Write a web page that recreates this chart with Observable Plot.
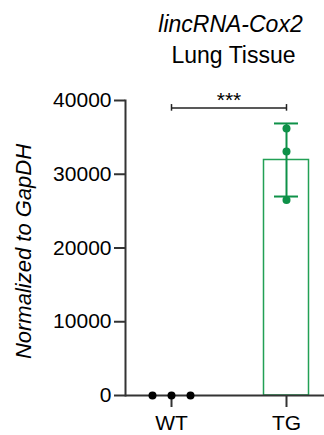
<!DOCTYPE html>
<html>
<head>
<meta charset="utf-8">
<script src="https://cdn.jsdelivr.net/npm/d3@7"></script>
<script src="https://cdn.jsdelivr.net/npm/@observablehq/plot@0.6"></script>
<style>
  html, body { margin: 0; padding: 0; background: white; }
</style>
</head>
<body>
<div id="chart"></div>
<script>
// ---- data ----
const groups = ["WT", "TG"];
const wtValues = [0, 0, 0];
const tgValues = [36200, 33100, 26500];
const yTicks = [0, 10000, 20000, 30000, 40000];
const titleLine1 = "lincRNA-Cox2";
const titleLine2 = "Lung Tissue";
const yLabel = "Normalized to GapDH";
const sigLabel = "***";
const sigY = 39000;

// ---- derived ----
const tgMean = d3.mean(tgValues);
const tgSd = d3.deviation(tgValues);
const barData = [{group: "TG", mean: tgMean}];
const errData = [{group: "TG", lo: tgMean - tgSd, hi: tgMean + tgSd}];
const wtPoints = wtValues.map((v, i) => ({group: "WT", value: v, i}));
const tgPoints = tgValues.map(v => ({group: "TG", value: v}));

const green = "#0e9148";
const barGreen = "#22a055";
const axisColor = "#333";
const font = "Liberation Sans, Arial, Helvetica, sans-serif";
const bw = 45;
const stepW = 115;

const chart = Plot.plot({
  width: 324,
  height: 435,
  marginLeft: 125,
  marginRight: 0,
  marginTop: 100,
  marginBottom: 40,
  style: {fontFamily: font, fontSize: "21px", color: "#000", background: "white"},
  x: {domain: groups, paddingInner: 0.6087, paddingOuter: 0.1696, align: 0.6026, round: false, label: null, axis: null},
  y: {domain: [0, 40000], label: null, axis: null},
  marks: [
    Plot.barY(barData, {x: "group", y: "mean", fill: "white", stroke: barGreen, strokeWidth: 1.5}),
    Plot.ruleY([0], {stroke: axisColor, strokeWidth: 2}),
    Plot.frame({anchor: "left", stroke: axisColor, strokeWidth: 2}),
    Plot.axisY({ticks: yTicks, tickSize: 11, tickPadding: 3, tickFormat: d => String(d), stroke: axisColor, strokeWidth: 2, fontSize: 21, label: null}),
    Plot.axisX({tickSize: 12, tickPadding: 8, stroke: axisColor, strokeWidth: 2, fontSize: 21, label: null}),
    // error bars
    Plot.ruleX(errData, {x: "group", y1: "lo", y2: "hi", stroke: green, strokeWidth: 2}),
    Plot.tickY(errData, {x: "group", y: "lo", stroke: green, strokeWidth: 2, insetLeft: 10.5, insetRight: 10.5}),
    Plot.tickY(errData, {x: "group", y: "hi", stroke: green, strokeWidth: 2, insetLeft: 10.5, insetRight: 10.5}),
    // points
    Plot.dot(tgPoints, {x: "group", y: "value", r: 4, fill: green}),
    Plot.dot(wtPoints.filter(d => d.i === 0), {x: "group", y: "value", r: 4, fill: "#000", dx: -19}),
    Plot.dot(wtPoints.filter(d => d.i === 1), {x: "group", y: "value", r: 4, fill: "#000"}),
    Plot.dot(wtPoints.filter(d => d.i === 2), {x: "group", y: "value", r: 4, fill: "#000", dx: 19}),
    // significance bracket
    Plot.ruleY([{y: sigY}], {y: "y", x1: () => "WT", x2: () => "TG", insetLeft: bw / 2, insetRight: bw / 2, stroke: "#222", strokeWidth: 1.5}),
    Plot.ruleX(groups, {x: d => d, y1: sigY - 450, y2: sigY + 450, stroke: "#222", strokeWidth: 1.5}),
    Plot.text([sigLabel], {x: () => "WT", y: () => sigY, dx: stepW / 2, dy: -1, text: d => d, lineAnchor: "bottom", textAnchor: "middle", fontSize: 21, fill: "#000"}),
    // title
    Plot.text([titleLine1], {frameAnchor: "top-left", dx: 105, dy: -69, text: d => d, textAnchor: "middle", lineAnchor: "bottom", fontSize: 23, fontStyle: "italic", fill: "#000"}),
    Plot.text([titleLine2], {frameAnchor: "top-left", dx: 108, dy: -37.7, text: d => d, textAnchor: "middle", lineAnchor: "bottom", fontSize: 23, fill: "#000"}),
    // y label
    Plot.text([yLabel], {frameAnchor: "left", dx: -101.5, dy: 3.5, rotate: -90, text: d => d, textAnchor: "middle", lineAnchor: "middle", fontSize: 22, fontStyle: "italic", fill: "#000"})
  ]
});
document.getElementById("chart").appendChild(chart);
</script>
</body>
</html>
